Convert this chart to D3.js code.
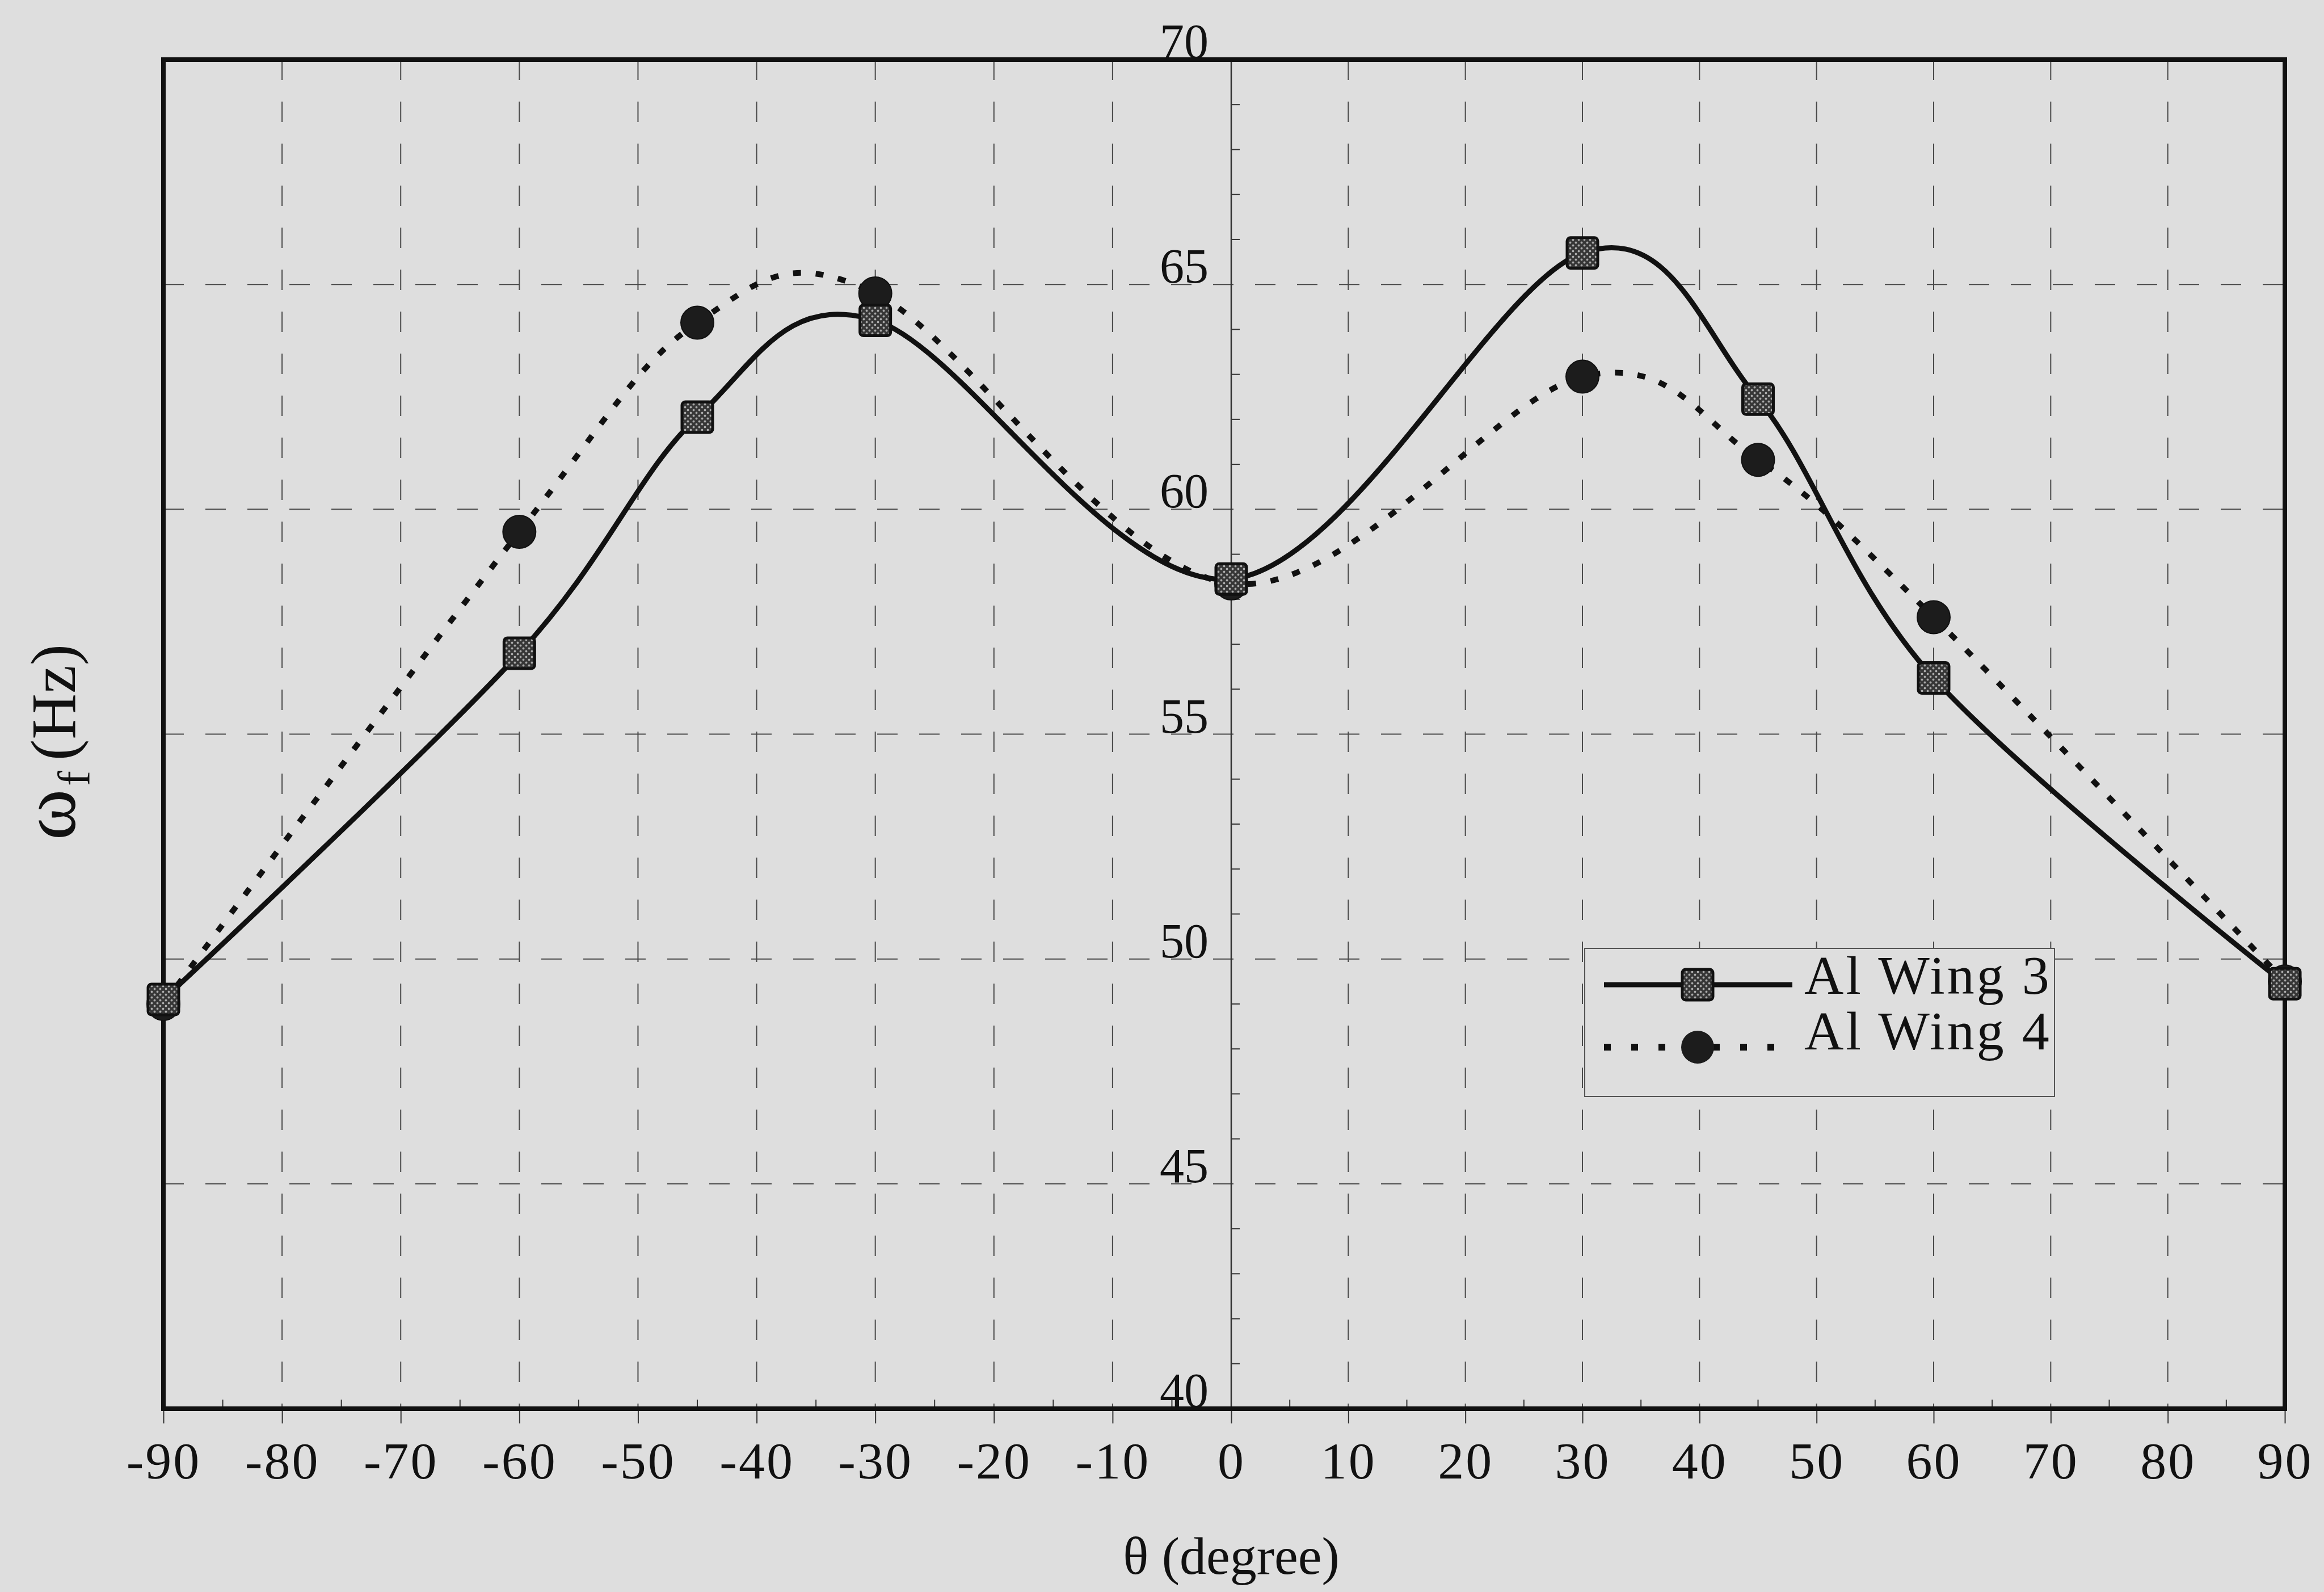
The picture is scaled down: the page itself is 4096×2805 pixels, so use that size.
<!DOCTYPE html>
<html>
<head>
<meta charset="utf-8">
<script src="https://cdn.jsdelivr.net/npm/d3@7"></script>
<style>
  html, body { margin: 0; padding: 0; background: #dedede; }
  svg { display: block; }
</style>
</head>
<body>
<svg id="chart" width="4096" height="2805"></svg>
<script>
// Fundamental frequency vs. fibre angle for two aluminium wings
const angles = [-90, -60, -45, -30, 0, 30, 45, 60, 90];
const wing3 = [49.1, 56.8, 62.05, 64.2, 58.45, 65.7, 62.45, 56.25, 49.45];
const wing4 = [49.0, 59.5, 64.15, 64.8, 58.35, 62.95, 61.1, 57.6, 49.5];
const seriesNames = ["Al Wing 3", "Al Wing 4"];
const xTicks = [-90, -80, -70, -60, -50, -40, -30, -20, -10, 0, 10, 20, 30, 40, 50, 60, 70, 80, 90];
const xMinorTicks = [-85, -75, -65, -55, -45, -35, -25, -15, -5, 5, 15, 25, 35, 45, 55, 65, 75, 85];
const yTicks = [40, 45, 50, 55, 60, 65, 70];
const yMinorTicks = d3.range(41, 70).filter(v => v % 5 !== 0);

const W = 4096, H = 2805;
const plot = { left: 288, mid: 2170, right: 4027, top: 105, bottom: 2482 };
const ink = "#111";
const serif = "'Liberation Serif', 'DejaVu Serif', serif";

const svg = d3.select("#chart");
svg.append("rect").attr("width", W).attr("height", H).attr("fill", "#dedede");

const x = d3.scaleLinear().domain([-90, 0, 90]).range([plot.left, plot.mid, plot.right]);
const y = d3.scaleLinear().domain([40, 70]).range([plot.bottom, plot.top]);
const fmt = d => String(d);

// Dithered fill used by the square markers
const defs = svg.append("defs");
const pat = defs.append("pattern")
  .attr("id", "dither").attr("patternUnits", "userSpaceOnUse")
  .attr("width", 10).attr("height", 10);
pat.append("rect").attr("width", 10).attr("height", 10).attr("fill", "#363636");
pat.append("circle").attr("cx", 2.5).attr("cy", 2.5).attr("r", 1.9).attr("fill", "#ababab");
pat.append("circle").attr("cx", 7.5).attr("cy", 7.5).attr("r", 1.9).attr("fill", "#ababab");

// Dashed grid
const grid = svg.append("g").attr("stroke", "#4a4a4a").attr("stroke-width", 2)
  .attr("stroke-dasharray", "36 38").attr("fill", "none");
grid.selectAll("line.h").data(yTicks.filter(v => v > 40 && v < 70)).join("line")
  .attr("class", "h")
  .attr("x1", plot.left).attr("x2", plot.right)
  .attr("y1", d => y(d)).attr("y2", d => y(d));
grid.selectAll("line.v").data(xTicks.filter(v => v > -90 && v < 90 && v !== 0)).join("line")
  .attr("class", "v")
  .attr("x1", d => x(d)).attr("x2", d => x(d))
  .attr("y1", plot.top).attr("y2", plot.bottom);

// Vertical axis through theta = 0 with minor ticks
const x0 = x(0);
svg.append("line").attr("x1", x0).attr("x2", x0).attr("y1", plot.top).attr("y2", plot.bottom)
  .attr("stroke", "#333").attr("stroke-width", 2.5);
svg.append("g").selectAll("line").data(yMinorTicks).join("line")
  .attr("x1", x0).attr("x2", x0 + 15)
  .attr("y1", d => y(d)).attr("y2", d => y(d))
  .attr("stroke", "#333").attr("stroke-width", 2);

const yAxis = d3.axisLeft(y).tickValues(yTicks).tickSize(0).tickPadding(40).tickFormat(fmt);
const gy = svg.append("g").attr("transform", `translate(${x0},0)`).call(yAxis);
gy.select(".domain").remove();
gy.selectAll("text").attr("dy", "-0.04em")
  .attr("font-family", serif).attr("font-size", 86).attr("fill", ink);

// Horizontal axis with labels
const xAxis = d3.axisBottom(x).tickValues(xTicks).tickSize(26).tickPadding(34).tickFormat(fmt);
const gx = svg.append("g").attr("transform", `translate(0,${plot.bottom})`).call(xAxis);
gx.select(".domain").remove();
gx.selectAll(".tick line").attr("stroke", "#333").attr("stroke-width", 2);
gx.selectAll("text").attr("font-family", serif).attr("font-size", 92).attr("fill", ink)
  .attr("dy", "0.68em").attr("letter-spacing", 3);
svg.append("g").selectAll("line").data(xMinorTicks).join("line")
  .attr("x1", d => x(d)).attr("x2", d => x(d))
  .attr("y1", plot.bottom).attr("y2", plot.bottom - 16)
  .attr("stroke", "#333").attr("stroke-width", 2);

// Frame
svg.append("rect")
  .attr("x", plot.left).attr("y", plot.top)
  .attr("width", plot.right - plot.left).attr("height", plot.bottom - plot.top)
  .attr("fill", "none").attr("stroke", ink).attr("stroke-width", 8);

// Series
const pts3 = angles.map((a, i) => [a, wing3[i]]);
const pts4 = angles.map((a, i) => [a, wing4[i]]);
const line = d3.line().x(d => x(d[0])).y(d => y(d[1])).curve(d3.curveCardinal.tension(0));

svg.append("path").attr("d", line(pts4)).attr("fill", "none")
  .attr("stroke", ink).attr("stroke-width", 10).attr("stroke-dasharray", "14 26");
svg.append("g").selectAll("circle").data(pts4).join("circle")
  .attr("cx", d => x(d[0])).attr("cy", d => y(d[1])).attr("r", 29)
  .attr("fill", "#1c1c1c").attr("stroke", ink).attr("stroke-width", 2);

svg.append("path").attr("d", line(pts3)).attr("fill", "none")
  .attr("stroke", ink).attr("stroke-width", 9);
const sq = 54;
svg.append("g").selectAll("rect").data(pts3).join("rect")
  .attr("x", d => x(d[0]) - sq / 2).attr("y", d => y(d[1]) - sq / 2)
  .attr("width", sq).attr("height", sq).attr("rx", 6)
  .attr("fill", "url(#dither)").attr("stroke", ink).attr("stroke-width", 5);

// Legend
const lg = { x: 2793, y: 1671, w: 828, h: 261 };
const legend = svg.append("g");
legend.append("rect").attr("x", lg.x).attr("y", lg.y).attr("width", lg.w).attr("height", lg.h)
  .attr("fill", "#dedede").attr("stroke", "#555").attr("stroke-width", 2);
const sx1 = 2827, sx2 = 3159, mx = 2992, tx = 3180;
const r1 = 1735, r2 = 1845;
legend.append("line").attr("x1", sx1).attr("x2", sx2).attr("y1", r1).attr("y2", r1)
  .attr("stroke", ink).attr("stroke-width", 9);
legend.append("rect").attr("x", mx - sq / 2).attr("y", r1 - sq / 2).attr("width", sq).attr("height", sq)
  .attr("rx", 6).attr("fill", "url(#dither)").attr("stroke", ink).attr("stroke-width", 5);
legend.append("line").attr("x1", sx1).attr("x2", sx2).attr("y1", r2).attr("y2", r2)
  .attr("stroke", ink).attr("stroke-width", 12).attr("stroke-dasharray", "12 36");
legend.append("circle").attr("cx", mx).attr("cy", r2).attr("r", 29)
  .attr("fill", "#1c1c1c");
legend.selectAll("text").data(seriesNames).join("text")
  .attr("x", tx).attr("y", (d, i) => i === 0 ? r1 + 16 : r2 + 4)
  .attr("font-family", serif).attr("font-size", 96).attr("fill", ink)
  .attr("letter-spacing", 4)
  .text(d => d);

// Axis titles
svg.append("text").attr("x", x0).attr("y", 2773).attr("text-anchor", "middle")
  .attr("font-family", serif).attr("font-size", 94).attr("fill", ink)
  .text("θ (degree)");

const yt = svg.append("text")
  .attr("transform", `translate(132,${(plot.top + plot.bottom) / 2 + 14}) rotate(-90)`)
  .attr("text-anchor", "middle")
  .attr("font-family", serif).attr("font-size", 112).attr("fill", ink);
yt.append("tspan").attr("font-size", 136).text("ω");
yt.append("tspan").attr("font-size", 80).attr("dx", 6).attr("dy", 26).text("f");
yt.append("tspan").attr("dx", 18).attr("dy", -26).text("(Hz)");
</script>
</body>
</html>
